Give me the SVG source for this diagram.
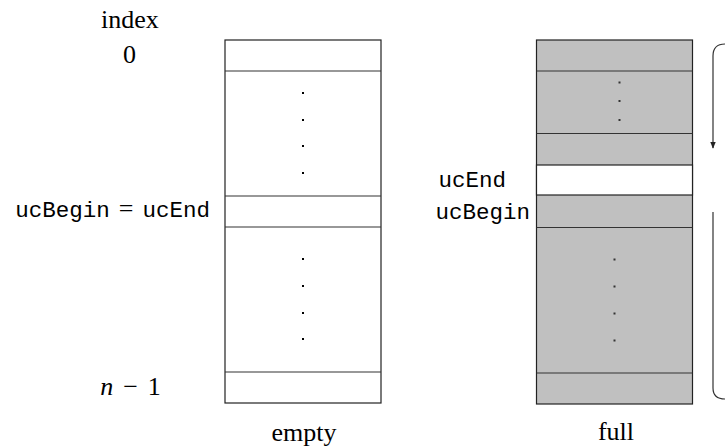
<svg xmlns="http://www.w3.org/2000/svg" width="725" height="448" viewBox="0 0 725 448">
<defs>
<style>
.serif{font-family:"Liberation Serif","DejaVu Serif",serif;font-size:26px;fill:#000}
.mono{font-family:"Liberation Mono","DejaVu Sans Mono",monospace;font-size:22.5px;fill:#000}
.cell{stroke:#222;stroke-width:1.2}
.div{stroke:#333;stroke-width:1.2}
.conn{fill:none;stroke:#333;stroke-width:1.2}
</style>
<marker id="ah" viewBox="0 0 10 10" refX="9" refY="5" markerWidth="7" markerHeight="7" markerUnits="userSpaceOnUse" orient="auto">
<path d="M0,1 L10,5 L0,9 Z" fill="#222"/>
</marker>
</defs>
<rect width="725" height="448" fill="#fff"/>

<g id="labels">
<text class="serif" x="130" y="28" text-anchor="middle">index</text>
<text class="serif" x="129.5" y="63" text-anchor="middle">0</text>
<text x="210" y="217" text-anchor="end"><tspan class="mono">ucBegin</tspan><tspan class="serif" dx="9">=</tspan><tspan class="mono" dx="9">ucEnd</tspan></text>
<text class="serif" x="130.5" y="395" text-anchor="middle"><tspan font-style="italic">n</tspan><tspan dx="10">−</tspan><tspan dx="10">1</tspan></text>
<text class="serif" x="304" y="441" text-anchor="middle">empty</text>
<text class="serif" x="616" y="440" text-anchor="middle">full</text>
<text class="mono" x="506" y="187" text-anchor="end">ucEnd</text>
<text class="mono" x="530" y="219" text-anchor="end">ucBegin</text>
</g>

<g id="empty-array">
<rect class="cell" x="225" y="40" width="156" height="363" fill="#fff"/>
<line class="div" x1="225" y1="71" x2="381" y2="71"/>
<line class="div" x1="225" y1="196" x2="381" y2="196"/>
<line class="div" x1="225" y1="227" x2="381" y2="227"/>
<line class="div" x1="225" y1="372" x2="381" y2="372"/>
<g fill="#000">
<rect x="302" y="92" width="2" height="2"/>
<rect x="302" y="119" width="2" height="2"/>
<rect x="302" y="145" width="2" height="2"/>
<rect x="302" y="172" width="2" height="2"/>
<rect x="302" y="258" width="2" height="2"/>
<rect x="302" y="285" width="2" height="2"/>
<rect x="302" y="312" width="2" height="2"/>
<rect x="302" y="338" width="2" height="2"/>
</g>
</g>

<g id="full-array">
<rect class="cell" x="536.5" y="40" width="156" height="364" fill="#c0c0c0"/>
<rect class="cell" x="536.5" y="165" width="156" height="30" fill="#fff"/>
<line class="div" x1="536.5" y1="71" x2="692.5" y2="71"/>
<line class="div" x1="536.5" y1="133.5" x2="692.5" y2="133.5"/>
<line class="div" x1="536.5" y1="227.5" x2="692.5" y2="227.5"/>
<line class="div" x1="536.5" y1="373" x2="692.5" y2="373"/>
<g fill="#333">
<rect x="618.5" y="81.5" width="2" height="2"/>
<rect x="618.5" y="100" width="2" height="2"/>
<rect x="618.5" y="119" width="2" height="2"/>
<rect x="613.5" y="258.5" width="2" height="2"/>
<rect x="613.5" y="285.5" width="2" height="2"/>
<rect x="613.5" y="312.5" width="2" height="2"/>
<rect x="613.5" y="339.5" width="2" height="2"/>
</g>
</g>

<g id="connectors">
<path class="conn" d="M725,44 Q713,44 713,56 L713,148" marker-end="url(#ah)"/>
<path class="conn" d="M713,212 L713,388 Q713,399 725,399"/>
</g>
</svg>
